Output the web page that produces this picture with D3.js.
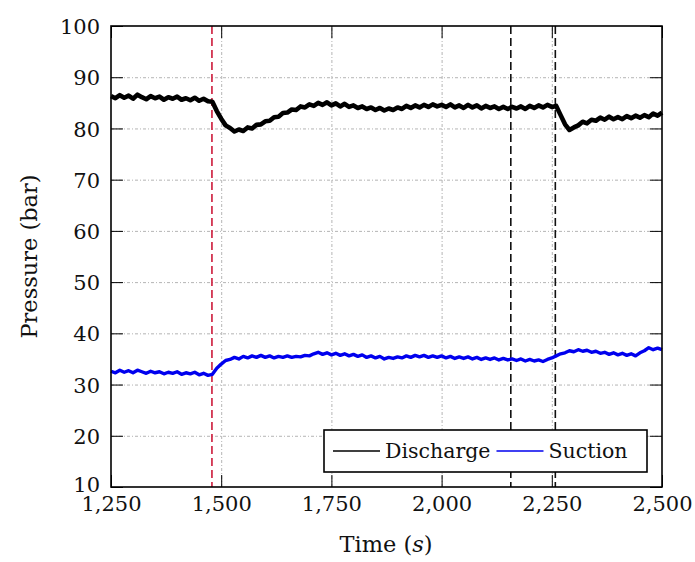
<!DOCTYPE html>
<html>
<head>
<meta charset="utf-8">
<script src="https://cdn.jsdelivr.net/npm/d3@7"></script>
<style>
  html, body { margin: 0; padding: 0; background: #fff; }
  svg { display: block; font-family: "DejaVu Serif", serif; }
</style>
</head>
<body>
<svg id="chart" width="695" height="562"></svg>
<script>
// Sample times (s)
const timeS = [1250,1260,1270,1280,1290,1300,1310,1320,1330,1340,1350,1360,1370,1380,1390,1400,1410,1420,1430,1440,
  1450,1460,1470,1480,1490,1500,1510,1520,1530,1540,1550,1560,1570,1580,1590,1600,1610,1620,1630,1640,
  1650,1660,1670,1680,1690,1700,1710,1720,1730,1740,1750,1760,1770,1780,1790,1800,1810,1820,1830,1840,
  1850,1860,1870,1880,1890,1900,1910,1920,1930,1940,1950,1960,1970,1980,1990,2000,2010,2020,2030,2040,
  2050,2060,2070,2080,2090,2100,2110,2120,2130,2140,2150,2160,2170,2180,2190,2200,2210,2220,2230,2240,
  2250,2260,2270,2280,2290,2300,2310,2320,2330,2340,2350,2360,2370,2380,2390,2400,2410,2420,2430,2440,
  2450,2460,2470,2480,2490,2500];

// Discharge pressure (bar)
const discharge = [86.3,85.9,86.5,86.0,86.4,85.8,86.6,86.1,85.7,86.3,
  85.9,86.2,85.6,86.1,85.8,86.2,85.6,85.9,85.5,86.0,
  85.4,85.8,85.3,85.2,83.4,81.9,80.6,80.1,79.4,79.8,
  79.5,80.2,80.0,80.7,80.8,81.4,81.5,82.2,82.3,83.0,
  83.1,83.7,83.6,84.3,84.1,84.7,84.4,85.0,84.6,85.1,
  84.5,84.9,84.3,84.8,84.2,84.5,84.0,84.3,83.8,84.1,
  83.6,84.0,83.5,83.9,83.6,84.1,83.8,84.4,84.0,84.5,
  84.1,84.6,84.2,84.7,84.3,84.6,84.2,84.7,84.1,84.5,
  84.0,84.6,84.1,84.5,83.9,84.4,84.0,84.3,83.8,84.2,
  83.8,84.2,83.9,84.3,83.8,84.4,84.0,84.5,84.1,84.6,
  84.2,84.4,82.6,80.8,79.7,80.2,80.6,81.3,81.0,81.7,
  81.5,82.1,81.7,82.3,81.8,82.2,81.8,82.4,82.0,82.5,
  82.1,82.6,82.2,82.9,82.5,83.1];

// Suction pressure (bar)
const suction = [32.6,32.3,32.8,32.4,32.7,32.3,32.8,32.5,32.2,32.6,
  32.3,32.5,32.1,32.4,32.2,32.5,32.0,32.3,32.1,32.4,
  31.9,32.2,31.8,32.0,33.2,34.0,34.7,34.9,35.3,35.0,
  35.5,35.2,35.6,35.3,35.7,35.3,35.6,35.2,35.5,35.3,
  35.6,35.3,35.5,35.4,35.7,35.6,36.0,36.3,35.9,36.2,
  35.8,36.1,35.7,36.0,35.6,35.9,35.5,35.8,35.3,35.6,
  35.2,35.5,35.0,35.3,35.1,35.4,35.2,35.6,35.3,35.7,
  35.4,35.7,35.3,35.6,35.3,35.6,35.2,35.5,35.1,35.4,
  35.1,35.4,35.0,35.3,34.9,35.2,34.9,35.2,34.8,35.1,
  34.8,35.0,34.7,35.0,34.6,34.9,34.6,34.8,34.5,34.9,
  35.2,35.6,36.0,36.2,36.6,36.4,36.8,36.5,36.7,36.3,
  36.5,36.1,36.3,35.9,36.2,35.8,36.1,35.7,36.0,35.6,
  36.2,36.6,37.2,36.8,37.1,36.8];

// Event markers (s)
const redMarkers = [1479];
const blackMarkers = [2157, 2258];

// Axis ticks
const xTicks = [1250, 1500, 1750, 2000, 2250, 2500];
const yTicks = [10, 20, 30, 40, 50, 60, 70, 80, 90, 100];

const seriesNames = ["Discharge", "Suction"];
const seriesColors = ["#000000", "#0000ee"];

const FONT = "'DejaVu Serif', serif";
const svg = d3.select("#chart");
const L = 111, R = 662, T = 26, B = 487;

const x = d3.scaleLinear().domain([1250, 2500]).range([L, R]);
const y = d3.scaleLinear().domain([10, 100]).range([B, T]);

// grid
const gridStyle = g => g.selectAll("line")
  .attr("stroke", "#b4b4b4").attr("stroke-width", 1).attr("stroke-dasharray", "3,2,1,2");

svg.append("g").attr("transform", `translate(0,${B})`)
  .call(d3.axisBottom(x).tickValues(xTicks.slice(1, -1)).tickSize(-(B - T)).tickFormat(""))
  .call(g => g.select(".domain").remove())
  .call(gridStyle);
svg.append("g").attr("transform", `translate(${L},0)`)
  .call(d3.axisLeft(y).tickValues(yTicks.slice(1, -1)).tickSize(-(R - L)).tickFormat(""))
  .call(g => g.select(".domain").remove())
  .call(gridStyle);

// event markers
svg.append("g").selectAll("line").data(redMarkers).join("line")
  .attr("x1", d => x(d)).attr("x2", d => x(d)).attr("y1", T).attr("y2", B)
  .attr("stroke", "#cc1a3a").attr("stroke-width", 1.6).attr("stroke-dasharray", "8,4");
svg.append("g").selectAll("line").data(blackMarkers).join("line")
  .attr("x1", d => x(d)).attr("x2", d => x(d)).attr("y1", T).attr("y2", B)
  .attr("stroke", "#111").attr("stroke-width", 1.6).attr("stroke-dasharray", "8,4");

// series
const line = d3.line().x((d, i) => x(timeS[i])).y(d => y(d));
svg.append("path").datum(suction).attr("d", line)
  .attr("fill", "none").attr("stroke", seriesColors[1]).attr("stroke-width", 3.4).attr("stroke-linejoin", "round");
svg.append("path").datum(discharge).attr("d", line)
  .attr("fill", "none").attr("stroke", seriesColors[0]).attr("stroke-width", 4.6).attr("stroke-linejoin", "round");

// axes with inward ticks
const tickLen = 12;
const styleAxis = g => {
  g.select(".domain").remove();
  g.selectAll(".tick line").attr("stroke", "#000").attr("stroke-width", 1);
  g.selectAll(".tick text").attr("fill", "#111").attr("font-size", 21).attr("font-family", FONT);
};
svg.append("g").attr("transform", `translate(0,${B})`)
  .call(d3.axisBottom(x).tickValues(xTicks).tickSizeInner(-tickLen).tickSizeOuter(0)
    .tickPadding(0).tickFormat(d3.format(",")))
  .call(styleAxis)
  .call(g => g.selectAll(".tick text").attr("y", 24).attr("dy", 0));
svg.append("g").attr("transform", `translate(0,${T})`)
  .call(d3.axisTop(x).tickValues(xTicks).tickSizeInner(-tickLen).tickSizeOuter(0).tickFormat(""))
  .call(styleAxis);
svg.append("g").attr("transform", `translate(${L},0)`)
  .call(d3.axisLeft(y).tickValues(yTicks).tickSizeInner(-tickLen).tickSizeOuter(0).tickFormat(d3.format("d")))
  .call(styleAxis)
  .call(g => g.selectAll(".tick text").attr("x", -11).attr("dy", "0.36em")
    .filter(d => d === yTicks[0]).attr("dy", "0.2em"));
svg.append("g").attr("transform", `translate(${R},0)`)
  .call(d3.axisRight(y).tickValues(yTicks).tickSizeInner(-tickLen).tickSizeOuter(0).tickFormat(""))
  .call(styleAxis);

// frame
svg.append("rect").attr("x", L).attr("y", T).attr("width", R - L).attr("height", B - T)
  .attr("fill", "none").attr("stroke", "#000").attr("stroke-width", 1.6);

// axis titles
const xTitle = svg.append("text").attr("x", (L + R) / 2 - 0.5).attr("y", 552)
  .attr("text-anchor", "middle").attr("font-size", 22.5).attr("fill", "#111").attr("font-family", FONT);
xTitle.append("tspan").text("Time (");
xTitle.append("tspan").attr("font-style", "italic").text("s");
xTitle.append("tspan").text(")");

svg.append("text").attr("transform", `translate(37,${(T + B) / 2}) rotate(-90)`)
  .attr("text-anchor", "middle").attr("font-size", 22.5).attr("fill", "#111").attr("font-family", FONT)
  .text("Pressure (bar)");

// legend
const lg = svg.append("g");
lg.append("rect").attr("x", 324).attr("y", 430).attr("width", 323).attr("height", 42)
  .attr("fill", "#fff").attr("stroke", "#000").attr("stroke-width", 1.6);
let cx = 333;
seriesNames.forEach((name, i) => {
  lg.append("line").attr("x1", cx).attr("x2", cx + 47).attr("y1", 451).attr("y2", 451)
    .attr("stroke", seriesColors[i]).attr("stroke-width", 1.4);
  const t = lg.append("text").attr("x", cx + 52).attr("y", 458).attr("font-size", 20.5)
    .attr("fill", "#111").attr("font-family", FONT).text(name);
  cx = cx + 52 + t.node().getComputedTextLength() + 6;
});
</script>
</body>
</html>
